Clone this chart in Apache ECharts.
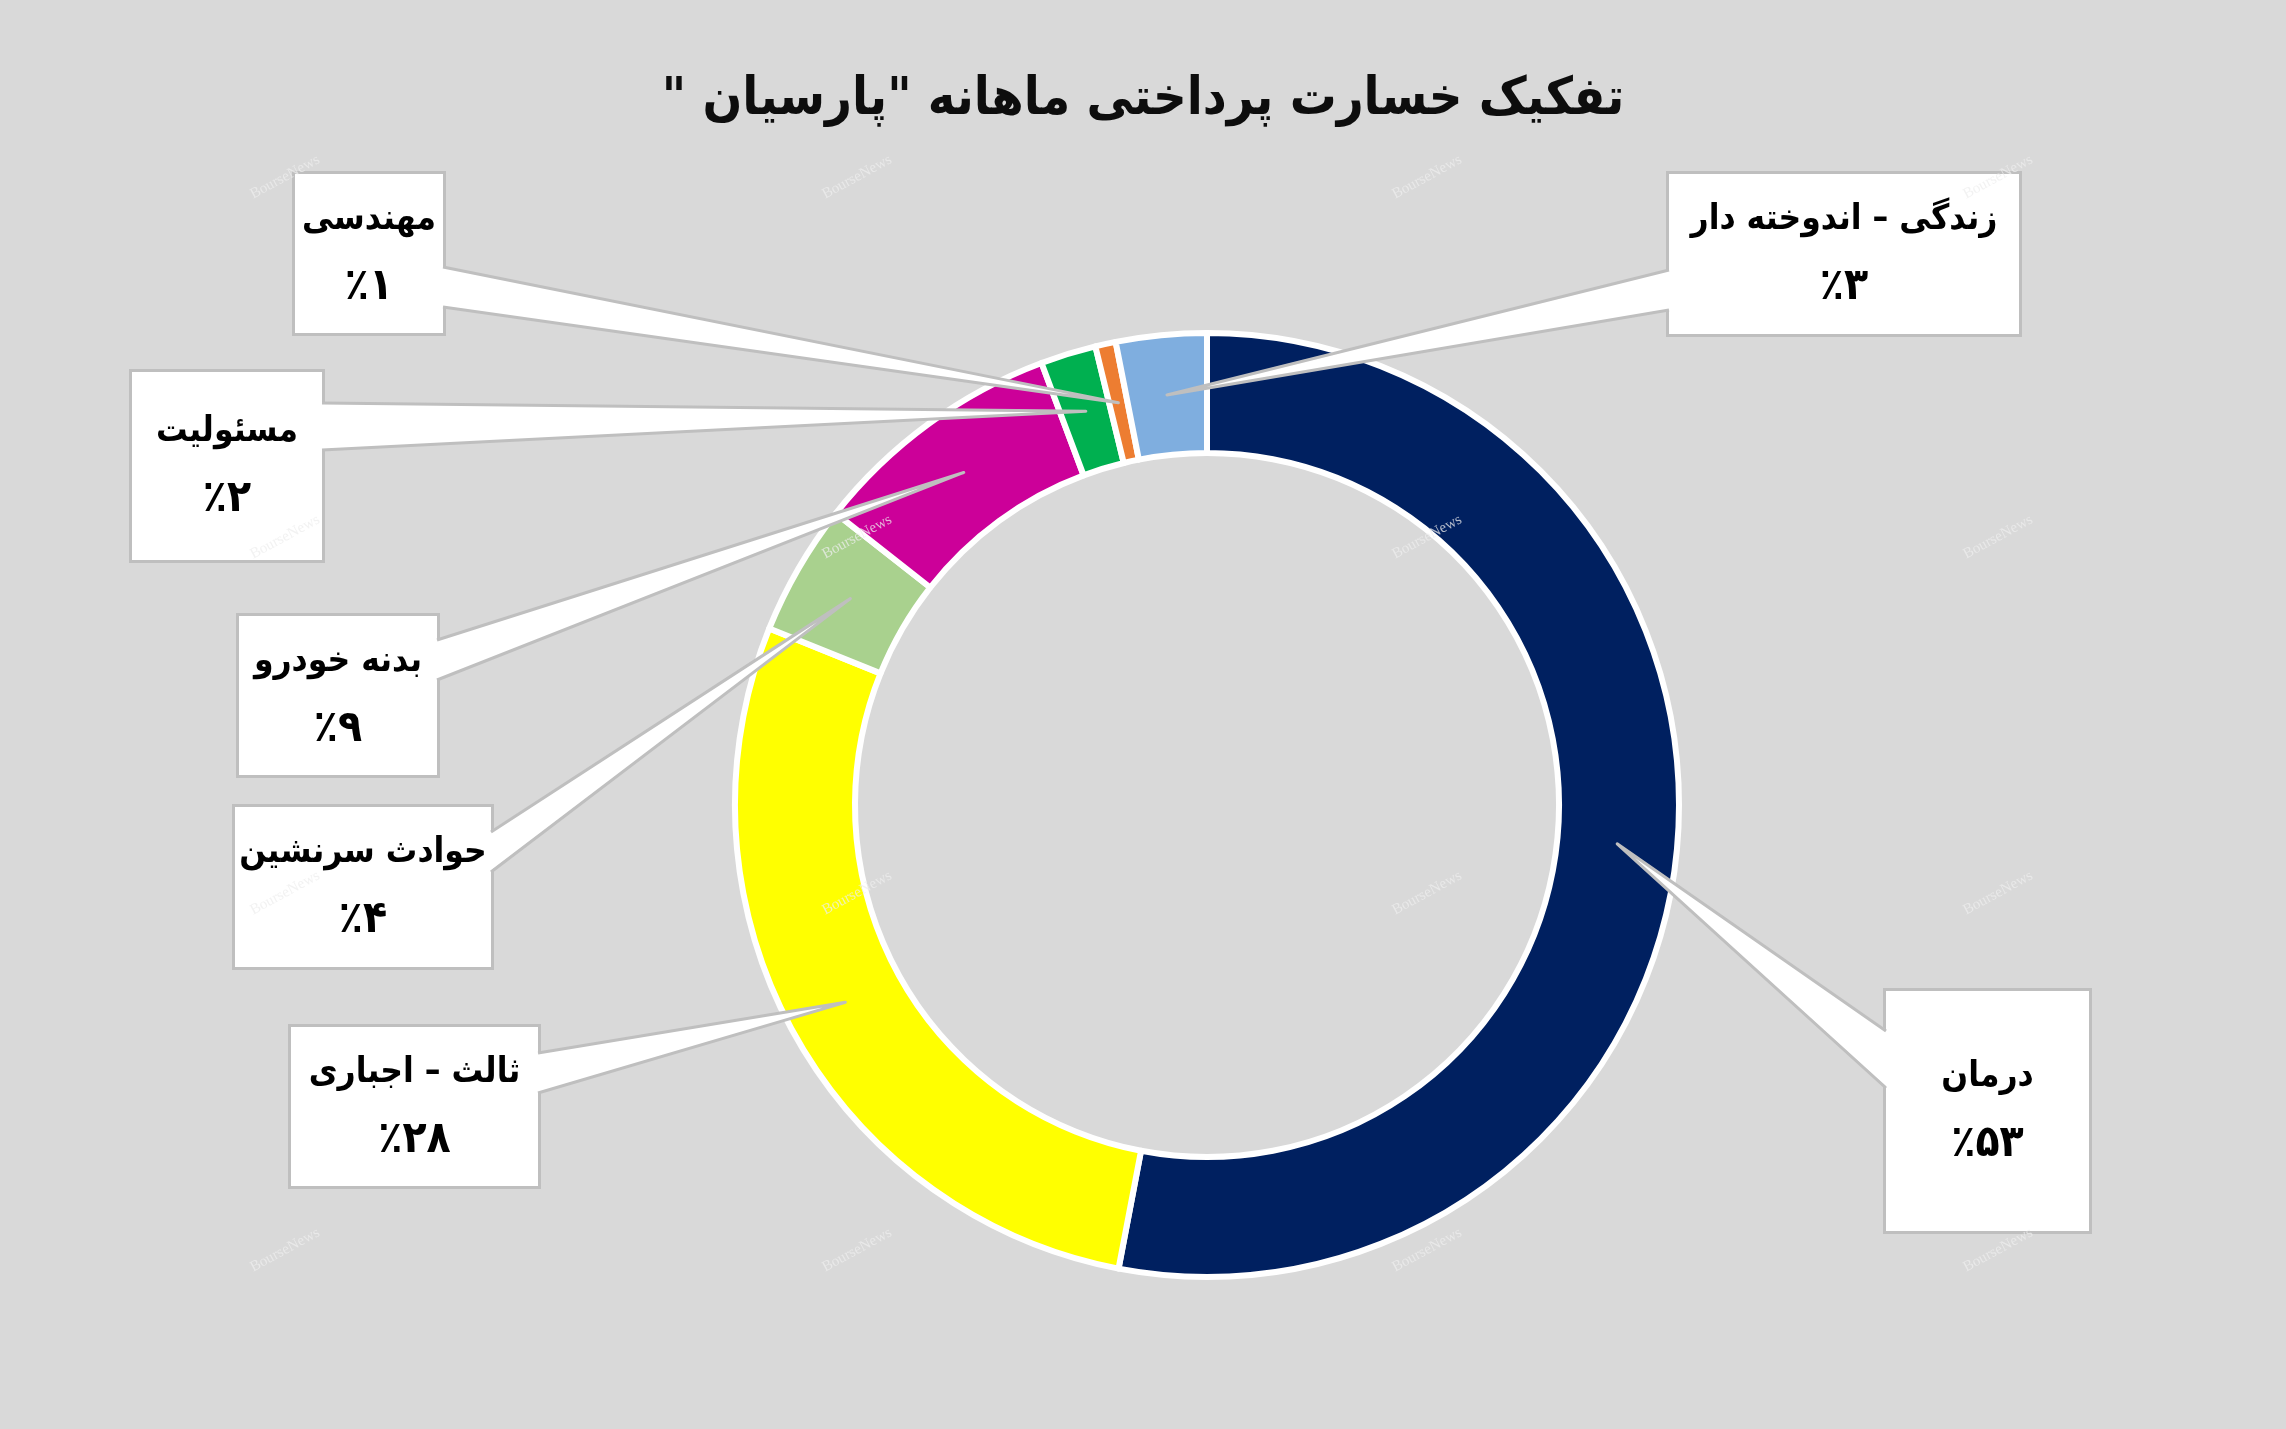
<!DOCTYPE html>
<html><head><meta charset="utf-8">
<script src="https://cdn.jsdelivr.net/npm/echarts@6/dist/echarts.min.js"></script>
<style>html,body{margin:0;padding:0;background:#d9d9d9;} #c{width:2286px;height:1429px;}</style>
</head><body><div id="c"></div>
<script>
// ---- data ----
const categories = ['درمان', 'ثالث – اجباری', 'حوادث سرنشین', 'بدنه خودرو', 'مسئولیت', 'مهندسی', 'زندگی – اندوخته دار'];
const shares = [53.0, 28.1, 4.5, 8.7, 1.9, 0.7, 3.1];
const shareLabels = ['٪۵۳', '٪۲۸', '٪۴', '٪۹', '٪۲', '٪۱', '٪۳'];
const titleText = 'تفکیک خسارت پرداختی ماهانه "پارسیان "\u200F';
const watermarkText = 'BourseNews';

// ---- styles / layout ----
const colors = ['#002060', '#FFFF00', '#A9D18E', '#CC0099', '#00B050', '#ED7D31', '#7FAEDF'];
// label boxes [left, top, right, bottom]
const boxes = [
  [1886, 991, 2089, 1231],
  [291, 1027, 538, 1186],
  [235, 807, 491, 967],
  [239, 616, 437, 775],
  [132, 372, 322, 560],
  [295, 174, 443, 333],
  [1669, 174, 2019, 334]
];
// callout base span on the box edge [yTop, yBottom]
const calloutBase = [
  [1031, 1088], [1053, 1093], [832, 872], [640, 680], [403, 450], [267, 307], [270, 310]
];
const LH = 68;
const FONT = '"DejaVu Sans Condensed", "DejaVu Sans"';

const chart = echarts.init(document.getElementById('c'), null, {renderer: 'canvas'});

const option = {
  backgroundColor: '#d9d9d9',
  animation: false,
  title: {
    text: titleText, left: 'center', top: 69,
    textStyle: {fontFamily: FONT, fontWeight: 'bold', fontSize: 52, color: '#0d0d0d'}
  },
  series: [{
    type: 'pie',
    center: [1207, 805],
    radius: [352, 472],
    startAngle: 90,
    clockwise: true,
    avoidLabelOverlap: false,
    silent: true,
    itemStyle: {borderColor: '#ffffff', borderWidth: 6},
    label: {
      show: true,
      position: 'outside',
      formatter: p => '{n|' + p.name + '}\n{p|' + shareLabels[p.dataIndex] + '}',
      rich: {
        n: {fontFamily: FONT, fontWeight: 'bold', fontSize: 35, lineHeight: LH, color: '#000'},
        p: {fontFamily: FONT, fontWeight: 'bold', fontSize: 44, lineHeight: LH, color: '#000'}
      },
      overflow: 'none',
      backgroundColor: '#ffffff', borderColor: '#BFBFBF', borderWidth: 3, align: 'center'
    },
    labelLine: {show: false},
    labelLayout: params => {
      const b = boxes[params.dataIndex];
      return {x: (b[0] + b[2]) / 2, y: (b[1] + b[3]) / 2, align: 'center', verticalAlign: 'middle'};
    },
    data: categories.map((n, i) => {
      const b = boxes[i];
      const pv = ((b[3] - b[1]) - 2 * LH) / 2;
      return {
        name: n, value: shares[i],
        itemStyle: {color: colors[i]},
        label: {width: b[2] - b[0], padding: [pv, 0, pv, 0]}
      };
    })
  }]
};
chart.setOption(option);

// callout wedges from label boxes to slice middles (slice geometry from the library layout)
const data = chart.getModel().getSeriesByIndex(0).getData();
const graphics = [];
for (let i = 0; i < categories.length; i++) {
  const L = data.getItemLayout(i);
  const mid = (L.startAngle + L.endAngle) / 2;
  const rm = (L.r + L.r0) / 2;
  const tip = [L.cx + rm * Math.cos(mid), L.cy + rm * Math.sin(mid)];
  const b = boxes[i];
  const rightSide = tip[0] > b[2];
  const ex = rightSide ? b[2] : b[0];
  const inward = rightSide ? -2 : 2;
  const [y1, y2] = calloutBase[i];
  graphics.push({
    type: 'polygon', z: 10, silent: true,
    shape: {points: [[ex + inward, y1], tip, [ex + inward, y2]]},
    style: {fill: '#ffffff', stroke: null}
  });
  graphics.push({
    type: 'polyline', z: 11, silent: true,
    shape: {points: [[ex, y1], tip, [ex, y2]]},
    style: {stroke: '#BFBFBF', lineWidth: 3, fill: null, lineJoin: 'round'}
  });
}
// faint watermarks
const wmX = [285, 857, 1427, 1998];
const wmY = [177, 537, 893, 1250];
wmX.forEach(x => wmY.forEach(y => {
  graphics.push({
    type: 'text', z: 20, silent: true, x: x, y: y, rotation: 0.5,
    style: {text: watermarkText, font: '15px "Liberation Serif"', fill: 'rgba(238,238,238,0.75)', align: 'center', verticalAlign: 'middle'}
  });
}));
chart.setOption({graphic: graphics});
</script>
</body></html>
